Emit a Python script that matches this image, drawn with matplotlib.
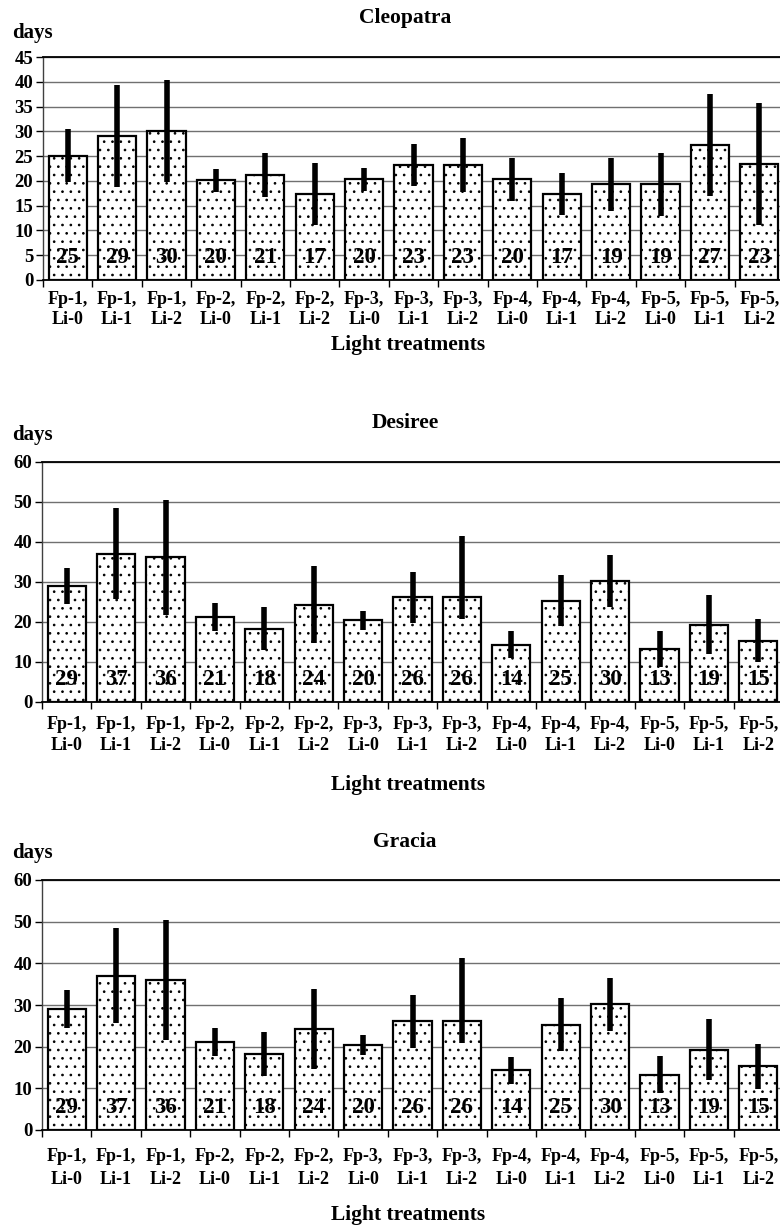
import matplotlib
matplotlib.use("Agg")
import matplotlib.pyplot as plt
import numpy as np

plt.rcParams['font.family'] = ['Liberation Serif', 'DejaVu Serif']
plt.rcParams['font.weight'] = 'bold'
plt.rcParams['hatch.linewidth'] = 0.7
plt.rcParams['hatch.color'] = 'black'

categories = ["Fp-1,\nLi-0", "Fp-1,\nLi-1", "Fp-1,\nLi-2",
              "Fp-2,\nLi-0", "Fp-2,\nLi-1", "Fp-2,\nLi-2",
              "Fp-3,\nLi-0", "Fp-3,\nLi-1", "Fp-3,\nLi-2",
              "Fp-4,\nLi-0", "Fp-4,\nLi-1", "Fp-4,\nLi-2",
              "Fp-5,\nLi-0", "Fp-5,\nLi-1", "Fp-5,\nLi-2"]

cleopatra_mean = [25.1, 29.1, 30.1, 20.1, 21.2, 17.3, 20.3, 23.2, 23.2, 20.3, 17.3, 19.3, 19.3, 27.3, 23.4]
cleopatra_err_low = [5.3, 10.3, 10.3, 2.3, 4.4, 6.3, 2.3, 4.3, 5.4, 4.4, 4.2, 5.3, 6.4, 10.3, 12.4]
cleopatra_err_high = [5.3, 10.3, 10.3, 2.3, 4.4, 6.3, 2.3, 4.3, 5.4, 4.4, 4.2, 5.3, 6.4, 10.3, 12.4]
cleopatra_labels = ["25", "29", "30", "20", "21", "17", "20", "23", "23", "20", "17", "19", "19", "27", "23"]

desiree_mean = [29.0, 37.0, 36.1, 21.2, 18.3, 24.3, 20.4, 26.1, 26.1, 14.3, 25.3, 30.2, 13.3, 19.3, 15.3]
desiree_err_low = [4.5, 11.4, 14.4, 3.4, 5.3, 9.6, 2.4, 6.4, 5.3, 3.3, 6.4, 6.4, 4.5, 7.3, 5.4]
desiree_err_high = [4.5, 11.4, 14.4, 3.4, 5.3, 9.6, 2.4, 6.4, 15.2, 3.3, 6.4, 6.4, 4.5, 7.3, 5.4]
desiree_labels = ["29", "37", "36", "21", "18", "24", "20", "26", "26", "14", "25", "30", "13", "19", "15"]

gracia_mean = [29.0, 37.0, 36.1, 21.2, 18.3, 24.3, 20.4, 26.1, 26.1, 14.3, 25.3, 30.2, 13.3, 19.3, 15.3]
gracia_err_low = [4.5, 11.4, 14.4, 3.4, 5.3, 9.6, 2.4, 6.4, 5.3, 3.3, 6.4, 6.4, 4.5, 7.3, 5.4]
gracia_err_high = [4.5, 11.4, 14.4, 3.4, 5.3, 9.6, 2.4, 6.4, 15.2, 3.3, 6.4, 6.4, 4.5, 7.3, 5.4]
gracia_labels = ["29", "37", "36", "21", "18", "24", "20", "26", "26", "14", "25", "30", "13", "19", "15"]

W, H = 780, 1227
fig = plt.figure(figsize=(W / 100, H / 100), dpi=100)

panels = [
    dict(name="Cleopatra", mean=cleopatra_mean, lo=cleopatra_err_low, hi=cleopatra_err_high,
         labels=cleopatra_labels, left=43, top=57, bottom=280, right=784, ymax=45, step=5,
         title_y=18, days_y=33, xl_y=345, pad=8, ls=1.25),
    dict(name="Desiree", mean=desiree_mean, lo=desiree_err_low, hi=desiree_err_high,
         labels=desiree_labels, left=42, top=461.5, bottom=702, right=783, ymax=60, step=10,
         title_y=423, days_y=435, xl_y=785, pad=10, ls=1.3),
    dict(name="Gracia", mean=gracia_mean, lo=gracia_err_low, hi=gracia_err_high,
         labels=gracia_labels, left=42, top=880, bottom=1130, right=783, ymax=60, step=10,
         title_y=842, days_y=853, xl_y=1215, pad=13, ls=1.45),
]

x = np.arange(len(categories))
for p in panels:
    ax = fig.add_axes([p['left'] / W, 1 - p['bottom'] / H,
                       (p['right'] - p['left']) / W, (p['bottom'] - p['top']) / H])
    ax.set_axisbelow(True)
    ax.yaxis.grid(True, color='#707070', linewidth=1.0)
    ax.bar(x, p['mean'], width=0.77, color='white', edgecolor='black',
           linewidth=1.6, hatch='..', zorder=2)
    ax.errorbar(x, p['mean'], yerr=[p['lo'], p['hi']], fmt='none', ecolor='black',
                elinewidth=4.0, capsize=0, zorder=3)
    for i, lab in enumerate(p['labels']):
        ax.annotate(lab, xy=(x[i], 0), xytext=(0, 16), textcoords='offset points',
                    ha='center', va='center', fontsize=16.5, fontweight='bold', zorder=4)
    ax.set_xlim(-0.5, len(categories) - 0.5)
    ax.set_ylim(0, p['ymax'])
    ax.set_yticks(np.arange(0, p['ymax'] + 1, p['step']))
    ax.tick_params(axis='y', labelsize=13.5, length=5, width=1, pad=2, direction='out')
    ax.set_xticks(x)
    ax.set_xticklabels(categories, fontsize=13, fontweight='bold', linespacing=p['ls'])
    ax.set_xticks(np.arange(-0.5, len(categories)), minor=True)
    ax.tick_params(axis='x', which='major', length=0, pad=p['pad'])
    ax.tick_params(axis='x', which='minor', length=5, width=1, direction='out')
    for lbl in ax.get_yticklabels():
        lbl.set_fontweight('bold')
    ax.spines['right'].set_visible(False)
    ax.spines['top'].set_color('black')
    ax.spines['top'].set_linewidth(1.3)
    ax.spines['left'].set_color('#404040')
    ax.spines['left'].set_linewidth(1.0)
    ax.spines['bottom'].set_color('black')
    ax.spines['bottom'].set_linewidth(1.3)

    fig.text(405 / W, 1 - p['title_y'] / H, p['name'], ha='center', va='center',
             fontsize=15.5, fontweight='bold')
    fig.text(12 / W, 1 - p['days_y'] / H, "days", ha='left', va='center',
             fontsize=15, fontweight='bold')
    fig.text(408 / W, 1 - p['xl_y'] / H, "Light treatments", ha='center', va='center',
             fontsize=15.5, fontweight='bold')

fig.savefig("out.png", dpi=100)
